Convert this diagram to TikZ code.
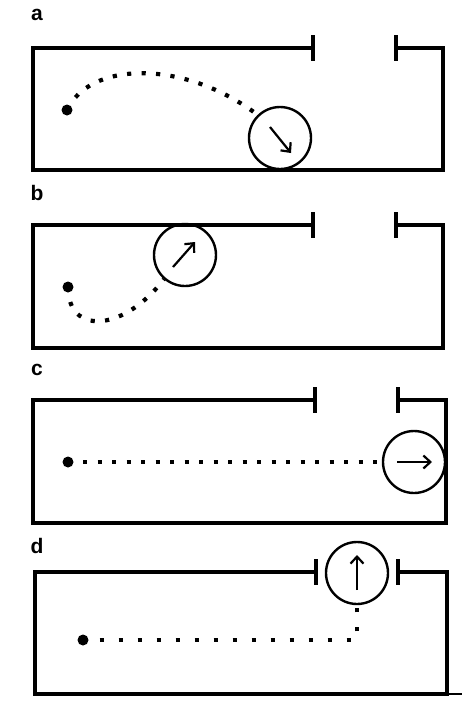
\documentclass[tikz,border=0pt]{standalone}
\usepackage{fontspec}
\setsansfont{Liberation Sans}
\usetikzlibrary{arrows.meta,positioning,calc}

\begin{document}
\begin{tikzpicture}[x=1pt,y=-1pt,
  every node/.style={font=\fontsize{21}{22}\sffamily\bfseries},
  wall/.style={line width=3.4pt,line join=miter},
  ball/.style={circle,draw,line width=2.4pt,minimum size=62pt,inner sep=0pt},
  start/.style={circle,fill,minimum size=11pt,inner sep=0pt},
  trail/.style={line width=4.2pt,dash pattern=on 4.2pt off 10.3pt,dash phase=5pt},
  spin/.style={line width=2.2pt,-{Straight Barb[length=7pt,width=13pt]}}]
\useasboundingbox (0,0) rectangle (476,716);

% chambers: left, right, top, bottom, gap edges
\foreach \L/\R/\T/\B/\Ga/\Gb in {33/443/48/170/313/396, 33/443/225/348/313/396,
    33/446/400/523/315/398, 35/447/572/694/316/398} {
  \draw[wall] (\Ga,\T) -- (\L,\T) -- (\L,\B) -- (\R,\B) -- (\R,\T) -- (\Gb,\T);
  \draw[wall] (\Ga,\T-13) -- (\Ga,\T+13);
  \draw[wall] (\Gb,\T-13) -- (\Gb,\T+13);
}
\draw[line width=1.4pt] (447,694) -- (462,694);

% a
\node at (37,15) (la) {a};
\node[start] at (67,110) (sa) {};
\node[ball] at (280,138) (ba) {};
\draw[trail] (sa) .. controls (95,62) and (185,60) .. (ba.134);
\draw[spin] ([shift={(-10,-11)}]ba.center) -- ([shift={(11,15)}]ba.center);

% b
\node at (37,193) (lb) {b};
\node[start] at (68,287) (sb) {};
\node[ball] at (185,255) (bb) {};
\draw[trail] (sb) .. controls (72,335) and (125,330) .. (bb.229);
\draw[spin] ([shift={(-12,12)}]bb.center) -- ([shift={(10,-13)}]bb.center);

% c
\node at (37,370) (lc) {c};
\node[start] at (68,462) (sc) {};
\node[ball] at (414,462) (bc) {};
\draw[trail] (sc) -- (bc.west);
\draw[spin] ([shift={(-17,0)}]bc.center) -- ([shift={(18,0)}]bc.center);

% d
\node at (37,546) (ld) {d};
\node[start] at (83,640) (sd) {};
\node[ball] at (357,573) (bd) {};
\coordinate (kd) at (357,640);
\draw[trail,dash pattern=on 4.2pt off 14.8pt,dash phase=8pt] (sd) -- (kd) -- (bd.south);
\draw[spin] ([shift={(0,17)}]bd.center) -- ([shift={(0,-18)}]bd.center);
\end{tikzpicture}
\end{document}
